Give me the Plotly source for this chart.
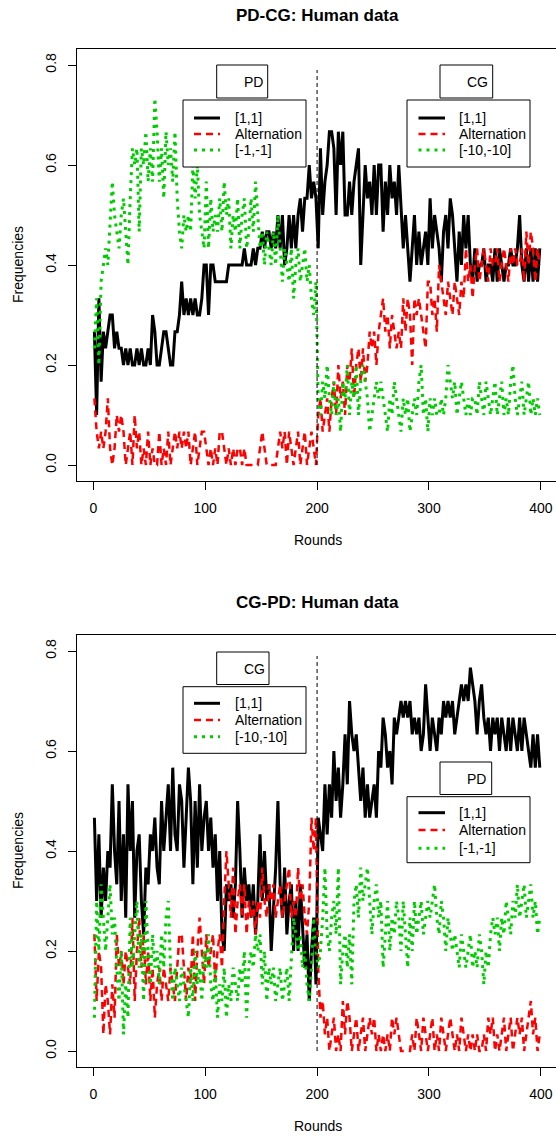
import plotly.graph_objects as go

# ---------------- data (counts out of 30 pairs, one value every 2 rounds) -------------
N_PAIRS = 30
rounds = list(range(1, 400, 2))

# PD-CG: [1,1]
pdcg_coop = [8, 3, 10, 5, 8, 7, 8, 9, 9, 7,
             8, 7, 7, 6, 7, 6, 7, 6, 6, 7,
             6, 7, 6, 6, 7, 6, 9, 8, 6, 6,
             7, 8, 8, 7, 6, 6, 8, 8, 9, 11,
             9, 10, 9, 10, 9, 10, 9, 9, 10, 12,
             12, 9, 12, 12, 11, 11, 11, 11, 11, 11,
             12, 12, 12, 12, 12, 12, 12, 13, 12, 12,
             12, 13, 12, 13, 13, 14, 13, 14, 14, 13,
             14, 13, 15, 13, 15, 12, 13, 15, 13, 15,
             13, 15, 16, 14, 16, 16, 18, 16, 17, 16,
             13, 19, 15, 17, 18, 20, 20, 19, 15, 20,
             18, 20, 15, 15, 17, 15, 17, 18, 19, 12,
             15, 18, 16, 17, 15, 18, 15, 18, 18, 14,
             17, 15, 18, 16, 17, 15, 18, 15, 13, 15,
             13, 11, 13, 15, 12, 14, 12, 13, 14, 12,
             16, 13, 15, 14, 13, 11, 14, 15, 13, 16,
             15, 13, 11, 14, 12, 15, 13, 15, 12, 11,
             13, 11, 12, 12, 13, 11, 12, 12, 11, 13,
             11, 13, 12, 11, 12, 12, 13, 12, 12, 13,
             15, 12, 11, 13, 11, 13, 11, 13, 11, 13]

# PD-CG: Alternation
pdcg_alt = [4, 2, 1, 2, 1, 2, 4, 1, 0, 1,
            3, 2, 3, 2, 0, 1, 2, 0, 3, 1,
            2, 0, 1, 0, 2, 0, 1, 0, 0, 2,
            0, 1, 0, 2, 0, 1, 2, 1, 2, 1,
            2, 1, 2, 0, 1, 2, 0, 1, 2, 2,
            1, 0, 1, 0, 1, 0, 2, 2, 1, 0,
            1, 0, 1, 0, 1, 1, 0, 1, 0, 0,
            0, 0, 0, 0, 1, 2, 1, 0, 0, 0,
            0, 0, 1, 2, 1, 2, 0, 2, 1, 0,
            1, 2, 0, 1, 2, 0, 1, 2, 1, 0,
            3, 4, 2, 3, 4, 2, 4, 5, 3, 6,
            4, 5, 3, 6, 5, 7, 4, 6, 7, 5,
            7, 5, 6, 8, 7, 8, 6, 8, 9, 10,
            8, 9, 7, 9, 8, 7, 8, 7, 10, 8,
            10, 9, 6, 10, 9, 10, 9, 8, 7, 11,
            11, 9, 10, 8, 12, 11, 10, 9, 11, 10,
            9, 11, 10, 9, 11, 10, 13, 11, 12, 10,
            12, 13, 11, 12, 13, 12, 11, 13, 12, 12,
            13, 11, 12, 13, 12, 11, 13, 12, 13, 12,
            12, 13, 11, 14, 12, 14, 13, 11, 13, 12]

# PD-CG: [-1,-1] (PD) then [-10,-10] (CG)
pdcg_mutual = [7, 10, 6, 11, 12, 13, 12, 15, 17, 15,
               14, 13, 15, 16, 14, 12, 16, 19, 18, 19,
               14, 19, 18, 20, 17, 19, 17, 22, 20, 17,
               19, 16, 20, 18, 19, 17, 20, 16, 14, 13,
               15, 14, 15, 14, 18, 16, 18, 15, 14, 13,
               17, 13, 16, 14, 15, 14, 16, 14, 17, 15,
               16, 13, 15, 14, 16, 13, 15, 16, 13, 14,
               16, 14, 17, 15, 13, 14, 12, 14, 13, 12,
               14, 12, 15, 13, 11, 13, 12, 11, 13, 10,
               12, 13, 11, 12, 13, 11, 12, 10, 9, 11,
               4, 3, 5, 4, 6, 4, 3, 5, 3, 4,
               2, 5, 4, 6, 3, 5, 4, 6, 3, 5,
               6, 5, 4, 2, 3, 4, 5, 4, 5, 4,
               3, 2, 4, 3, 5, 4, 3, 2, 4, 3,
               4, 2, 3, 4, 3, 5, 6, 3, 4, 2,
               4, 3, 4, 3, 3, 4, 3, 4, 6, 5,
               4, 5, 3, 4, 5, 4, 3, 4, 3, 4,
               4, 3, 5, 4, 3, 5, 4, 3, 4, 5,
               3, 4, 5, 3, 4, 3, 5, 6, 4, 3,
               4, 5, 3, 4, 5, 3, 4, 3, 4, 3]

# CG-PD: [1,1]
cgpd_coop = [14, 9, 13, 8, 11, 9, 12, 11, 16, 12,
             10, 15, 9, 13, 8, 16, 12, 15, 8, 12,
             13, 9, 7, 11, 10, 13, 12, 14, 11, 10,
             15, 12, 14, 16, 12, 17, 13, 12, 16, 15,
             11, 14, 17, 15, 10, 15, 11, 16, 12, 14,
             15, 12, 14, 11, 13, 9, 12, 7, 6, 10,
             9, 10, 8, 10, 15, 12, 8, 11, 9, 10,
             8, 10, 7, 9, 13, 9, 12, 9, 10, 6,
             9, 11, 15, 10, 8, 11, 7, 9, 10, 6,
             9, 6, 10, 7, 5, 7, 3, 6, 8, 4,
             14, 13, 12, 16, 13, 16, 14, 18, 15, 17,
             14, 16, 19, 16, 21, 19, 18, 19, 17, 15,
             17, 14, 16, 14, 15, 16, 14, 18, 17, 20,
             19, 17, 18, 16, 20, 19, 20, 21, 20, 21,
             20, 21, 19, 20, 19, 20, 18, 19, 22, 20,
             18, 20, 19, 18, 20, 19, 21, 20, 21, 20,
             21, 19, 20, 21, 22, 21, 22, 21, 23, 22,
             21, 19, 21, 22, 20, 19, 20, 18, 20, 19,
             20, 18, 20, 19, 18, 20, 18, 20, 19, 18,
             20, 18, 20, 19, 18, 17, 19, 17, 19, 17]

# CG-PD: Alternation
cgpd_alt = [7, 3, 6, 5, 1, 4, 3, 1, 4, 2,
            7, 5, 6, 4, 6, 5, 4, 8, 3, 6,
            8, 5, 7, 4, 6, 3, 5, 2, 4, 5,
            3, 5, 4, 3, 5, 4, 3, 5, 7, 7,
            5, 3, 5, 4, 7, 3, 6, 8, 6, 4,
            7, 5, 6, 7, 4, 6, 7, 5, 9, 12,
            10, 8, 11, 7, 9, 10, 8, 10, 7, 9,
            8, 9, 7, 9, 8, 11, 9, 8, 10, 9,
            10, 8, 9, 10, 8, 9, 10, 11, 8, 9,
            8, 11, 9, 10, 8, 7, 9, 14, 12, 14,
            5, 2, 3, 1, 2, 0, 1, 2, 0, 1,
            0, 3, 1, 3, 2, 0, 1, 2, 0, 1,
            2, 0, 1, 2, 1, 2, 0, 1, 0, 1,
            0, 1, 0, 2, 1, 2, 1, 0, 0, 0,
            0, 0, 1, 0, 2, 1, 0, 2, 1, 0,
            1, 2, 0, 1, 0, 2, 1, 0, 1, 2,
            1, 0, 1, 0, 2, 1, 0, 1, 0, 1,
            0, 1, 0, 0, 1, 0, 2, 1, 2, 0,
            1, 0, 1, 2, 0, 1, 2, 0, 1, 2,
            1, 2, 0, 1, 2, 3, 1, 2, 0, 1]

# CG-PD: [-10,-10] (CG) then [-1,-1] (PD)
cgpd_mutual = [2, 9, 6, 10, 8, 6, 8, 10, 7, 8,
               5, 3, 6, 1, 4, 2, 8, 5, 7, 9,
               5, 7, 3, 9, 6, 4, 7, 5, 6, 4,
               7, 5, 8, 9, 5, 3, 5, 4, 3, 5,
               4, 3, 2, 5, 3, 6, 4, 5, 3, 6,
               5, 7, 4, 3, 5, 2, 4, 3, 5, 2,
               4, 3, 5, 4, 3, 5, 4, 6, 2, 5,
               6, 5, 7, 6, 7, 4, 6, 3, 5, 4,
               5, 3, 4, 5, 3, 4, 5, 3, 6, 8,
               7, 6, 7, 5, 6, 4, 3, 5, 8, 6,
               5, 6, 8, 11, 7, 6, 8, 9, 7, 11,
               4, 6, 7, 5, 7, 4, 9, 10, 8, 11,
               9, 10, 11, 9, 7, 9, 10, 8, 9, 5,
               7, 9, 6, 8, 7, 9, 8, 6, 9, 7,
               5, 8, 6, 9, 7, 8, 9, 7, 8, 9,
               8, 9, 10, 8, 7, 9, 8, 6, 8, 7,
               6, 7, 6, 5, 7, 6, 5, 6, 7, 5,
               6, 5, 7, 6, 4, 6, 5, 7, 8, 7,
               8, 6, 8, 7, 9, 8, 7, 9, 8, 10,
               8, 9, 10, 8, 9, 10, 8, 9, 7, 8]

x_ticks = [0, 100, 200, 300, 400]
y_ticks = [0.0, 0.2, 0.4, 0.6, 0.8]
switch_round = 200

panel_titles = ["PD-CG: Human data", "CG-PD: Human data"]
legend_names = [["[1,1]", "Alternation", "[-1,-1]"], ["[1,1]", "Alternation", "[-10,-10]"],
                ["[1,1]", "Alternation", "[-10,-10]"], ["[1,1]", "Alternation", "[-1,-1]"]]
game_labels = ["PD", "CG", "CG", "PD"]

# ---------------- styling ----------------
W, H = 556, 1136
FONT = "Liberation Sans, Arial, sans-serif"
BLACK, RED, GREEN = "#000000", "#FF0000", "#00CD00"
styles = [dict(color=BLACK, width=3, dash="solid"),
          dict(color=RED, width=2.5, dash="7px,5px"),
          dict(color=GREEN, width=3, dash="3px,5px")]


def px(xp):
    return xp / W


def py(yp):
    return 1 - yp / H


fig = go.Figure()

panels = [
    (pdcg_coop, pdcg_alt, pdcg_mutual, "x", "y"),
    (cgpd_coop, cgpd_alt, cgpd_mutual, "x2", "y2"),
]
for coop, alt, mut, xa, ya in panels:
    for series, st in zip([coop, alt, mut], styles):
        fig.add_trace(go.Scatter(
            x=rounds, y=[c / N_PAIRS for c in series], mode="lines",
            line=dict(color=st["color"], width=st["width"], dash=st["dash"]),
            xaxis=xa, yaxis=ya, showlegend=False, hoverinfo="skip"))
    # vertical dashed line at the game switch
    fig.add_shape(type="line", xref=xa, yref=ya, x0=switch_round, x1=switch_round,
                  y0=0, y1=0.79, line=dict(color=BLACK, width=1, dash="4px,3px"))

# panel pixel boxes (page pixels): (top, bottom)
panel_box = [(49, 481), (635, 1067)]
x_left = 76.5
xdom = [px(x_left), 1.0]
xrange_ = [-15.0, 413.5]
yrange_ = [-0.032, 0.832]

axis_common = dict(showline=True, linecolor=BLACK, linewidth=1, ticks="outside",
                   ticklen=8, tickcolor=BLACK, tickwidth=1, showgrid=False,
                   zeroline=False, tickfont=dict(family=FONT, size=14, color=BLACK))

for i, (top, bot) in enumerate(panel_box):
    sfx = "" if i == 0 else "2"
    fig.layout["xaxis" + sfx] = dict(
        axis_common, domain=xdom, range=xrange_, anchor="y" + sfx,
        tickvals=x_ticks, ticktext=[str(v) for v in x_ticks], mirror=True,
        ticklabelstandoff=6)
    fig.layout["yaxis" + sfx] = dict(
        axis_common, domain=[py(bot), py(top)], range=yrange_, anchor="x" + sfx,
        tickvals=y_ticks, ticktext=["%.1f" % v for v in y_ticks], tickangle=-90,
        ticklabelstandoff=6)

annotations = []
shapes = list(fig.layout.shapes)

# titles, axis labels
for i, (top, bot) in enumerate(panel_box):
    annotations.append(dict(text="<b>%s</b>" % panel_titles[i], x=px(317.5),
                            y=py(16 if i == 0 else 602), xref="paper", yref="paper",
                            showarrow=False, xanchor="center", yanchor="middle",
                            font=dict(family=FONT, size=17, color=BLACK)))
    annotations.append(dict(text="Rounds", x=px(317.5), y=py(540 if i == 0 else 1126),
                            xref="paper", yref="paper", showarrow=False,
                            xanchor="center", yanchor="middle",
                            font=dict(family=FONT, size=14, color=BLACK)))
    annotations.append(dict(text="Frequencies", x=px(18), y=py((top + bot) / 2),
                            xref="paper", yref="paper", showarrow=False, textangle=-90,
                            xanchor="center", yanchor="middle",
                            font=dict(family=FONT, size=14, color=BLACK)))

# legends: label box, label pos, legend box, sample line x-range, text x, entry ys (page px)
legends = [
    ((216.7, 65, 267.7, 98), (241.5, 82), (183, 100, 306, 167), (194, 220), 232.5, (118, 134, 150)),
    ((440, 65, 492.7, 98), (465, 82), (407, 100, 530, 167), (418.5, 445), 456.5, (118, 134, 150)),
    ((216.7, 652, 269, 684.5), (241.5, 669), (183, 686.7, 306, 753.3), (194, 220), 232.5, (703.3, 720, 736.7)),
    ((440, 762, 491.7, 794.5), (465, 778.5), (407, 796.7, 530, 862.7), (418.5, 445), 456.5, (812.7, 830, 848.3)),
]
for k, (lb, lt, bb, lx, tx, ys) in enumerate(legends):
    shapes.append(dict(type="rect", xref="paper", yref="paper", x0=px(lb[0]), x1=px(lb[2]),
                       y0=py(lb[3]), y1=py(lb[1]), line=dict(color=BLACK, width=1),
                       fillcolor="white", layer="above"))
    annotations.append(dict(text=game_labels[k], x=px(lt[0]), y=py(lt[1]), xref="paper",
                            yref="paper", showarrow=False, xanchor="left", yanchor="middle",
                            font=dict(family=FONT, size=14, color=BLACK)))
    shapes.append(dict(type="rect", xref="paper", yref="paper", x0=px(bb[0]), x1=px(bb[2]),
                       y0=py(bb[3]), y1=py(bb[1]), line=dict(color=BLACK, width=1),
                       fillcolor="white", layer="above"))
    for name, st, yy in zip(legend_names[k], styles, ys):
        shapes.append(dict(type="line", xref="paper", yref="paper", x0=px(lx[0]), x1=px(lx[1]),
                           y0=py(yy), y1=py(yy), layer="above",
                           line=dict(color=st["color"], width=st["width"], dash=st["dash"])))
        annotations.append(dict(text=name, x=px(tx), y=py(yy), xref="paper", yref="paper",
                                showarrow=False, xanchor="left", yanchor="middle",
                                font=dict(family=FONT, size=14, color=BLACK)))

fig.update_layout(
    width=W, height=H, autosize=False,
    margin=dict(l=0, r=0, t=0, b=0, pad=0),
    paper_bgcolor="white", plot_bgcolor="white",
    showlegend=False, annotations=annotations, shapes=shapes,
    font=dict(family=FONT, size=14, color=BLACK),
)

# remove the page's default body margin so the figure fills the window exactly
fig.write_html("out.html",
               config={"displayModeBar": False, "staticPlot": True},
               post_script="document.body.style.margin='0';"
                           "document.body.style.overflow='hidden';")
